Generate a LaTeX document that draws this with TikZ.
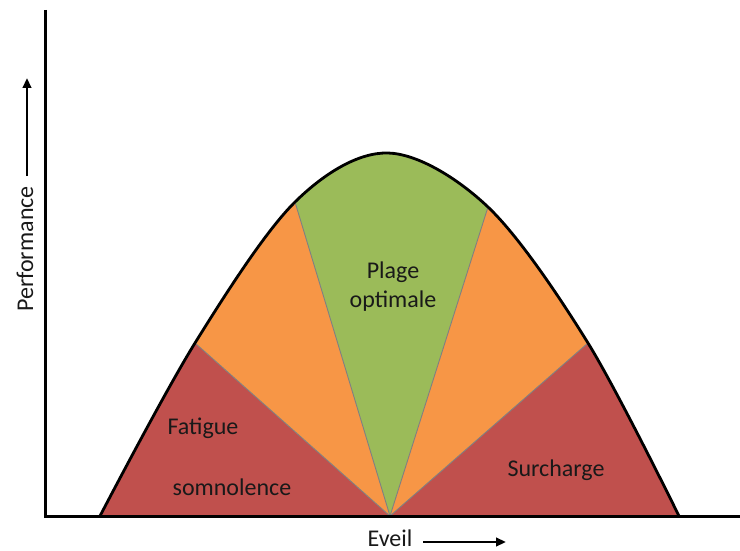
\documentclass[tikz,border=0pt]{standalone}
\usepackage{fontspec}
\setmainfont{Carlito}
\usetikzlibrary{arrows.meta,calc}
\definecolor{zonered}{HTML}{C0504D}
\definecolor{zoneorange}{HTML}{F79646}
\definecolor{zonegreen}{HTML}{9BBB59}
\begin{document}
\begin{tikzpicture}[x=1pt,y=-1pt,
  axisline/.style={line width=3pt},
  bellline/.style={line width=2.8pt, line join=round},
  divider/.style={draw=gray, line width=0.9pt},
  axisarrow/.style={line width=2.6pt, -{Triangle[length=10pt,width=8.5pt]}},
  lbl/.style={font=\fontsize{24}{28}\selectfont, text=black!90, inner sep=0pt, anchor=base}]
\useasboundingbox (0,0) rectangle (740,551);

% key points of the bell
\coordinate (footL) at (100,516);
\coordinate (jL)    at (195,343);
\coordinate (uL)    at (295,202);
\coordinate (peak)  at (388,153);
\coordinate (uR)    at (488,207);
\coordinate (jR)    at (588,343);
\coordinate (footR) at (679,516);
\coordinate (base)  at (390,516);

\def\bellpath{plot[smooth, tension=0.55] coordinates {(100,516) (195,343) (295,202) (388,153) (488,207) (588,343) (679,516)}}

% coloured zones, clipped to the bell
\begin{scope}
  \clip \bellpath -- cycle;
  \fill[zonered]    (base) -- ($(base)!3!(jL)$) -- (0,516) -- cycle;
  \fill[zoneorange] (base) -- ($(base)!3!(jL)$) -- ($(base)!3!(uL)$) -- cycle;
  \fill[zonegreen]  (base) -- ($(base)!3!(uL)$) -- (390,-400) -- ($(base)!3!(uR)$) -- cycle;
  \fill[zoneorange] (base) -- ($(base)!3!(uR)$) -- ($(base)!3!(jR)$) -- cycle;
  \fill[zonered]    (base) -- ($(base)!3!(jR)$) -- (740,516) -- cycle;
\end{scope}

% zone borders
\draw[divider] (base) -- (jL);
\draw[divider] (base) -- (uL);
\draw[divider] (base) -- (uR);
\draw[divider] (base) -- (jR);

% bell outline
\draw[bellline] \bellpath;

% axes
\coordinate (origin) at (45,516);
\coordinate (ytop)   at (45,10);
\coordinate (xend)   at (740,516);
\draw[axisline] (ytop) -- (origin) -- (xend);

% axis titles with their arrows
\node[lbl, rotate=90] (perf) at (33,249) {Performance};
\coordinate (pa0) at (27,176);
\coordinate (pa1) at (27,78);
\draw[axisarrow] (pa0) -- (pa1);

\node[lbl] (eveil) at (390,546) {Eveil};
\coordinate (ea0) at (423,542);
\coordinate (ea1) at (506,542);
\draw[axisarrow] (ea0) -- (ea1);

% zone labels
\node[lbl] (fatigue)   at (203,434) {Fatigue};
\node[lbl] (somno)     at (232,495) {somnolence};
\node[lbl] (plage)     at (393,278) {Plage};
\node[lbl] (optimale)  at (393,307) {optimale};
\node[lbl] (surcharge) at (556,476) {Surcharge};
\end{tikzpicture}
\end{document}
